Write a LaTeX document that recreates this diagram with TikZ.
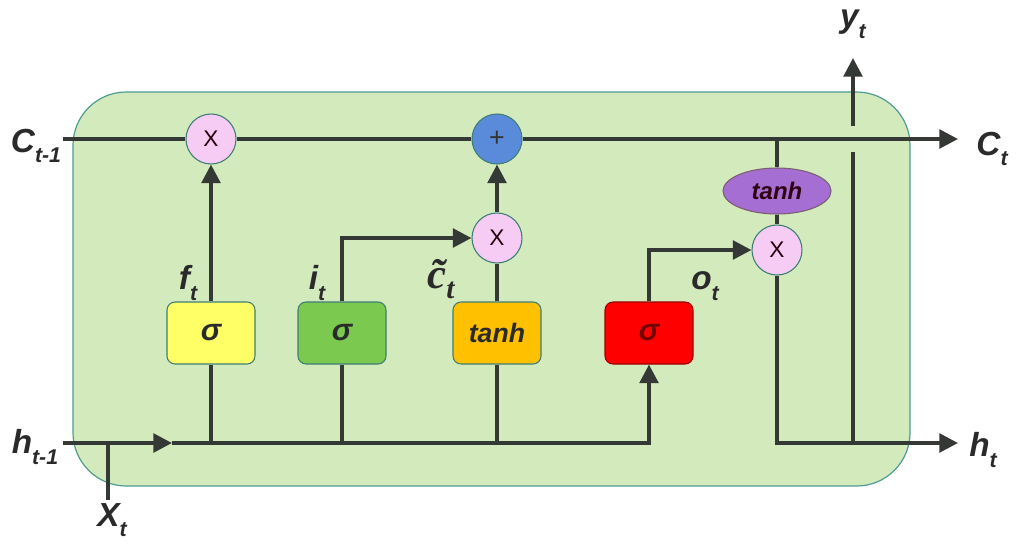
\documentclass[tikz,border=0pt]{standalone}
\usepackage{fontspec}
\setmainfont{Liberation Sans}
\newfontfamily\serifbi{Liberation Serif}
\usetikzlibrary{arrows.meta,shapes.geometric}
\definecolor{cellfill}{HTML}{D3EABD}
\definecolor{cellborder}{HTML}{4E9C93}
\definecolor{wirecol}{HTML}{353935}
\definecolor{txtcol}{HTML}{2A2A2A}
\definecolor{pinkfill}{HTML}{F6CCF4}
\definecolor{plusfill}{HTML}{5A8BDA}
\definecolor{yelfill}{HTML}{FFFF66}
\definecolor{grnfill}{HTML}{7BC94E}
\definecolor{orgfill}{HTML}{FFC000}
\definecolor{redfill}{HTML}{FF0000}
\definecolor{purfill}{HTML}{A46ED2}
\newcommand\lsub[1]{\raisebox{-0.32em}{\fontsize{16}{16}\selectfont #1}}
\begin{document}
\begin{tikzpicture}[x=0.75pt,y=-0.75pt,
  wire/.style={draw=wirecol,line width=2.8pt},
  arr/.style={wire,-{Triangle[length=14pt,width=14pt]}},
  gatebox/.style={draw=cellborder!80!black,line width=0.8pt,rounded corners=6pt,minimum width=66pt,minimum height=46.5pt,inner sep=0pt,font=\bfseries\itshape\fontsize{23}{26}\selectfont,text=txtcol},
  opcirc/.style={circle,draw=cellborder!80!black,line width=0.8pt,minimum size=37.5pt,inner sep=0pt,font=\fontsize{17}{20}\selectfont,text=black!70!purple!60!black},
  lbl/.style={font=\bfseries\itshape\fontsize{25}{28}\selectfont,text=txtcol,inner sep=0pt},
  glbl/.style={font=\bfseries\itshape\fontsize{25}{28}\selectfont,text=txtcol,inner sep=0pt}]
\useasboundingbox (0,0) rectangle (1016,550);
\fill[white] (0,0) rectangle (1016,550);
% cell
\draw[fill=cellfill,draw=cellborder,line width=0.9pt,rounded corners=40pt] (73,92) rectangle (910,486);
% coordinates
\coordinate (cin) at (63,139);
\coordinate (cout) at (958,139);
\coordinate (hin) at (63,443);
\coordinate (hmid) at (172,443);
\coordinate (hout) at (958,443);
\coordinate (xjoin) at (108,443);
\coordinate (xbot) at (108,500);
\coordinate (yjoin) at (853,443);
\coordinate (ylow) at (853,152);
\coordinate (yhigh) at (853,126);
\coordinate (ytip) at (853,58);
% nodes
\node[opcirc,fill=pinkfill] (fx) at (211,139) {X};
\node[opcirc,fill=plusfill,text=black!80] (plus) at (497,139) {\fontsize{20}{20}\selectfont +};
\node[opcirc,fill=pinkfill] (ix) at (497,238) {X};
\node[opcirc,fill=pinkfill] (ox) at (777,250) {X};
\node[ellipse,draw=cellborder!60!purple,line width=0.8pt,fill=purfill,minimum width=81pt,minimum height=34.5pt,inner sep=0pt,font=\bfseries\itshape\fontsize{18}{20}\selectfont,text=black!75!purple] (th) at (777,191) {tanh};
\node[gatebox,fill=yelfill] (fbox) at (211,333) {σ};
\node[gatebox,fill=grnfill] (ibox) at (342,333) {σ};
\node[gatebox,fill=orgfill,font=\bfseries\itshape\fontsize{20}{22}\selectfont] (cbox) at (497,333) {tanh};
\node[gatebox,fill=redfill,draw=red!60!black,text=red!45!black] (obox) at (649,333) {σ};
% labels
\node[lbl] (lcin) at (36,146) {C\lsub{t-1}};
\node[lbl] (lcout) at (992,149) {C\lsub{t}};
\node[lbl] (lhin) at (35,447) {h\lsub{t-1}};
\node[lbl] (lhout) at (983,450) {h\lsub{t}};
\node[lbl] (lx) at (112,520) {X\lsub{t}};
\node[lbl] (ly) at (853,24) {y\lsub{t}};
\node[glbl] (lf) at (188,283) {f\lsub{t}};
\node[glbl] (li) at (317,283) {i\lsub{t}};
\node[font=\serifbi\bfseries\itshape\fontsize{32}{34}\selectfont,text=txtcol,inner sep=0pt] (lc) at (441,279) {\~{c}\raisebox{-0.22em}{\fontsize{22}{22}\selectfont t}};
\node[glbl] (lo) at (705,286) {o\lsub{t}};
% cell state line
\draw[wire] (cin) -- (fx.west);
\draw[wire] (fx.east) -- (plus.west);
\draw[arr] (plus.east) -- (cout);
% hidden input line
\draw[arr] (hin) -- (hmid);
\draw[arr] (hmid) -| (obox.south);
\draw[wire] (xjoin) -- (xbot);
% gate stems
\draw[wire] (fbox.south |- hmid) -- (fbox.south);
\draw[wire] (ibox.south |- hmid) -- (ibox.south);
\draw[wire] (cbox.south |- hmid) -- (cbox.south);
% gate outputs
\draw[arr] (fbox.north) -- (fx.south);
\draw[arr] (ibox.north) |- (ix.west);
\draw[wire] (cbox.north) -- (ix.south);
\draw[arr] (ix.north) -- (plus.south);
\draw[arr] (obox.north) |- (ox.west);
% output path
\draw[wire] (th.north |- cin) -- (th.north);
\draw[wire] (th.south) -- (ox.north);
\draw[arr] (ox.south) |- (hout);
\draw[wire] (yjoin) -- (ylow);
\draw[arr] (yhigh) -- (ytip);
\end{tikzpicture}
\end{document}
